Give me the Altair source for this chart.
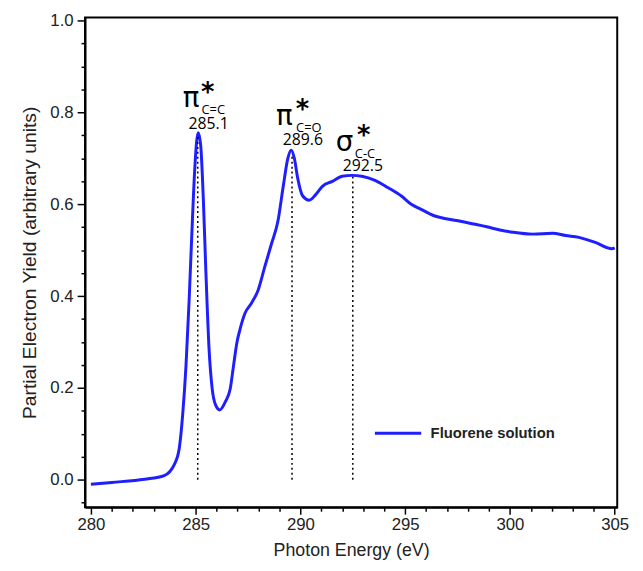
import altair as alt
import pandas as pd

# Spectrum
energy = [280.0, 281.0, 282.57, 283.5, 283.99, 284.22, 284.38, 284.54, 284.69, 284.85,
          284.96, 285.12, 285.24, 285.37, 285.48, 285.64, 285.79, 285.95, 286.15, 286.42,
          286.65, 286.81, 286.97, 287.12, 287.36, 287.67, 287.99, 288.30, 288.62, 288.93,
          289.17, 289.40, 289.56, 289.71, 289.87, 290.11, 290.42, 290.73, 291.05, 291.52,
          291.99, 292.46, 292.93, 293.56, 294.19, 294.82, 295.29, 295.76, 296.38, 297.01,
          297.64, 298.27, 298.89, 299.52, 300.15, 301.09, 302.03, 302.66, 303.29, 304.07,
          304.86, 305.0]
yield_ = [-0.010, -0.006, 0.001, 0.009, 0.034, 0.069, 0.141, 0.249, 0.392, 0.571,
          0.679, 0.756, 0.729, 0.607, 0.464, 0.285, 0.198, 0.163, 0.152, 0.170,
          0.198, 0.249, 0.299, 0.328, 0.363, 0.385, 0.414, 0.464, 0.514, 0.564,
          0.636, 0.700, 0.718, 0.700, 0.657, 0.618, 0.609, 0.621, 0.639, 0.650,
          0.661, 0.663, 0.661, 0.652, 0.636, 0.618, 0.600, 0.589, 0.575, 0.568,
          0.563, 0.557, 0.551, 0.544, 0.539, 0.535, 0.537, 0.532, 0.528, 0.517,
          0.503, 0.505]
series_name = "Fluorene solution"

# Peak markers (dotted lines)
peak_x = [285.1, 289.6, 292.5]
peak_top = [0.75, 0.71, 0.66]

# Annotation texts
greek_text = ["π", "π", "σ"]
greek_x = [284.78, 289.23, 292.10]
greek_y = [0.811, 0.773, 0.715]
star_x = [285.58, 290.10, 293.02]
star_y = [0.826, 0.789, 0.731]
sub_text = ["C=C", "C=O", "C-C"]
sub_x = [285.84, 290.40, 293.08]
sub_y = [0.796, 0.757, 0.700]
num_text = ["285.1", "289.6", "292.5"]
num_x = [285.62, 290.12, 292.98]
num_y = [0.764, 0.730, 0.672]

x_ticks = list(range(280, 306))          # majors every 5, minors every 1
y_ticks = [round(-0.05 + 0.05 * i, 2) for i in range(22)]  # majors every 0.2

FONT = "Liberation Sans"
xdom = [279.72, 305.12]
ydom = [-0.06, 1.007]

spec = pd.DataFrame({"x": energy, "y": yield_, "series": series_name})
peaks = pd.DataFrame({"x": peak_x, "y0": [0.0] * 3, "y1": peak_top})
greek = pd.DataFrame({"x": greek_x, "y": greek_y, "t": greek_text})
stars = pd.DataFrame({"x": star_x, "y": star_y, "t": ["*"] * 3})
subs = pd.DataFrame({"x": sub_x, "y": sub_y, "t": sub_text})
nums = pd.DataFrame({"x": num_x, "y": num_y, "t": num_text})

xs = alt.Scale(domain=xdom, nice=False, zero=False)
ys = alt.Scale(domain=ydom, nice=False, zero=False)

x_major_test = "datum.value % 5 === 0"
y_major_test = "abs(datum.value * 5 - round(datum.value * 5)) < 1e-6"

x_axis = alt.Axis(values=x_ticks, tickCount=500, title="Photon Energy (eV)", orient="bottom",
                  labelExpr=f"{x_major_test} ? format(datum.value, 'd') : ''",
                  tickSize={"condition": {"test": x_major_test, "value": 7}, "value": 4},
                  tickWidth=1.5, tickColor="black", domainColor="black",
                  domainWidth=2, labelFontSize=17, labelFont=FONT, labelColor="#222",
                  titleFont=FONT, titleFontSize=18, titleFontWeight="normal",
                  titleColor="#222", titlePadding=9, labelPadding=3, grid=False,
                  labelOverlap=False)
y_axis = alt.Axis(values=y_ticks, tickCount=500, title="Partial Electron Yield (arbitrary units)",
                  orient="left",
                  labelExpr=f"{y_major_test} ? format(datum.value, '.1f') : ''",
                  tickSize={"condition": {"test": y_major_test, "value": 8}, "value": 4},
                  tickWidth=1.5, tickColor="black",
                  domainColor="black", domainWidth=2, labelFontSize=17, labelFont=FONT,
                  labelColor="#222", titleFont=FONT, titleFontSize=19.5,
                  titleFontWeight="normal", titleColor="#222", titlePadding=11,
                  labelPadding=4, grid=False, labelOverlap=False)

line = alt.Chart(spec).mark_line(strokeWidth=3, interpolate="monotone").encode(
    x=alt.X("x:Q", scale=xs, axis=x_axis),
    y=alt.Y("y:Q", scale=ys, axis=y_axis),
    color=alt.Color("series:N", scale=alt.Scale(range=["#1e1eff"]),
                    legend=alt.Legend(title=None, orient="none", legendX=292, legendY=396,
                                      symbolType="stroke", symbolSize=2200,
                                      symbolStrokeWidth=3, labelFontSize=15,
                                      labelFontWeight="bold", labelFont=FONT,
                                      labelColor="#222", labelOffset=8, padding=0)),
)

dots = alt.Chart(peaks).mark_rule(color="black", strokeWidth=1.5, strokeDash=[2, 3]).encode(
    x="x:Q", y="y0:Q", y2="y1:Q")

greek_l = alt.Chart(greek).mark_text(fontSize=28, font="DejaVu Sans", baseline="alphabetic",
                                     align="center", color="black").encode(x="x:Q", y="y:Q", text="t:N")
star_l = alt.Chart(stars).mark_text(fontSize=26, font="DejaVu Sans", fontWeight="bold",
                                    baseline="alphabetic", align="center",
                                    color="black").encode(x="x:Q", y="y:Q", text="t:N")
sub_l = alt.Chart(subs).mark_text(fontSize=13, font="Open Sans", baseline="alphabetic",
                                  align="center", color="black").encode(x="x:Q", y="y:Q", text="t:N")
num_l = alt.Chart(nums).mark_text(fontSize=16, font="Open Sans", baseline="alphabetic",
                                  align="center", color="black").encode(x="x:Q", y="y:Q", text="t:N")

chart = alt.layer(line, dots, greek_l, star_l, sub_l, num_l).properties(
    width=539, height=496,
    padding={"left": 78, "top": 6, "right": 18, "bottom": 61},
    autosize="none",
).configure_view(stroke="black", strokeWidth=2)

chart.save("out.html", embed_options={"renderer": "svg", "actions": False})
